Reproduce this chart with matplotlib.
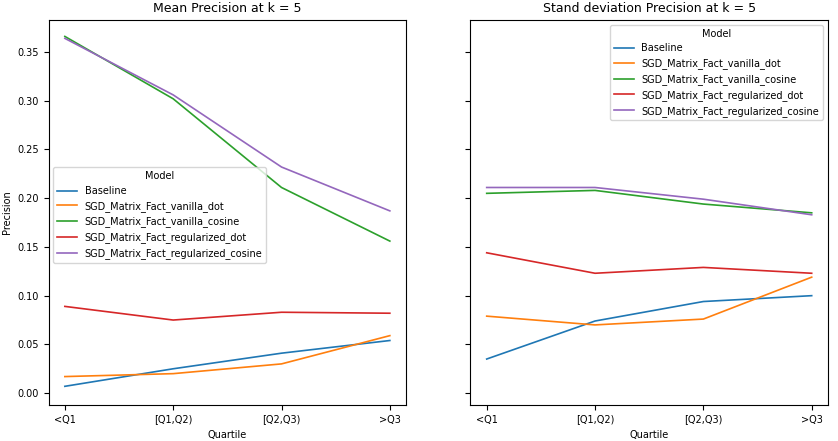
import matplotlib
matplotlib.use("Agg")
import matplotlib.pyplot as plt

quartiles = ["<Q1", "[Q1,Q2)", "[Q2,Q3)", ">Q3"]
models = ["Baseline", "SGD_Matrix_Fact_vanilla_dot", "SGD_Matrix_Fact_vanilla_cosine",
          "SGD_Matrix_Fact_regularized_dot", "SGD_Matrix_Fact_regularized_cosine"]
mean_baseline = [0.007, 0.025, 0.041, 0.054]
mean_vanilla_dot = [0.017, 0.020, 0.030, 0.059]
mean_vanilla_cosine = [0.366, 0.302, 0.211, 0.156]
mean_reg_dot = [0.089, 0.075, 0.083, 0.082]
mean_reg_cosine = [0.364, 0.306, 0.232, 0.187]
std_baseline = [0.035, 0.074, 0.094, 0.100]
std_vanilla_dot = [0.079, 0.070, 0.076, 0.119]
std_vanilla_cosine = [0.205, 0.208, 0.194, 0.185]
std_reg_dot = [0.144, 0.123, 0.129, 0.123]
std_reg_cosine = [0.211, 0.211, 0.199, 0.183]

means = [mean_baseline, mean_vanilla_dot, mean_vanilla_cosine, mean_reg_dot, mean_reg_cosine]
stds = [std_baseline, std_vanilla_dot, std_vanilla_cosine, std_reg_dot, std_reg_cosine]
colors = ["#1f77b4", "#ff7f0e", "#2ca02c", "#d62728", "#9467bd"]

fig, axes = plt.subplots(1, 2, figsize=(8.38, 4.41), dpi=100, sharey=True)
fig.subplots_adjust(left=0.058, right=0.988, top=0.955, bottom=0.082, wspace=0.18)
for ax, data, title, lk in [(axes[0], means, "Mean Precision at k = 5",
                             dict(loc="upper left", bbox_to_anchor=(0.0, 0.63))),
                            (axes[1], stds, "Stand deviation Precision at k = 5",
                             dict(loc="upper right"))]:
    for name, vals, c in zip(models, data, colors):
        ax.plot(quartiles, vals, color=c, label=name, linewidth=1.2)
    ax.set_title(title, fontsize=9)
    ax.set_xlabel("Quartile", fontsize=7)
    ax.tick_params(labelsize=7)
    ax.legend(title="Model", fontsize=7, title_fontsize=7, **lk)
axes[0].set_ylabel("Precision", fontsize=7)
axes[0].set_ylim(-0.012, 0.383)
axes[1].tick_params(labelleft=False)
fig.savefig("out.png")
